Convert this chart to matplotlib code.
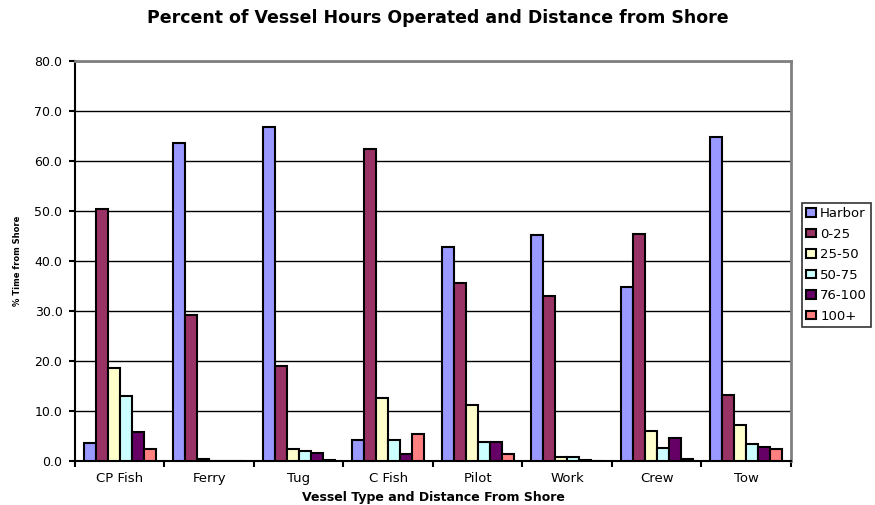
import numpy as np
import matplotlib
matplotlib.use('Agg')
import matplotlib.pyplot as plt

plt.rcParams['font.family'] = ['DejaVu Sans']

# data
vessels = ['CP Fish', 'Ferry', 'Tug', 'C Fish', 'Pilot', 'Work', 'Crew', 'Tow']
bands = ['Harbor', '0-25', '25-50', '50-75', '76-100', '100+']
harbor = [3.6, 63.6, 66.8, 4.3, 42.8, 45.3, 34.8, 64.8]
d0_25 = [50.5, 29.2, 19.1, 62.4, 35.7, 33.1, 45.5, 13.2]
d25_50 = [18.7, 0.5, 2.5, 12.7, 11.2, 0.8, 6.0, 7.2]
d50_75 = [13.1, 0.0, 2.1, 4.3, 3.9, 0.8, 2.7, 3.5]
d76_100 = [5.9, 0.0, 1.7, 1.5, 3.9, 0.3, 4.7, 2.8]
d100p = [2.5, 0.0, 0.3, 5.5, 1.5, 0.0, 0.4, 2.5]
series = [harbor, d0_25, d25_50, d50_75, d76_100, d100p]
colors = ['#9999FF', '#993366', '#FFFFCC', '#CCFFFF', '#660066', '#FF8080']

fig = plt.figure(figsize=(8.75, 5.05), dpi=100)
ax = fig.add_axes([0.0857, 0.087, 0.8183, 0.792])

x = np.arange(len(vessels))
w = 0.134
for i, (vals, c) in enumerate(zip(series, colors)):
    ax.bar(x + (i - 2.5) * w, vals, w, color=c, edgecolor='black', linewidth=1.5,
           label=bands[i], zorder=3)

ax.set_xlim(-0.5, len(vessels) - 0.5)
ax.set_ylim(0, 80)
ax.set_yticks(np.arange(0, 81, 10))
ax.set_yticklabels(['%.1f' % v for v in np.arange(0, 81, 10)], fontsize=9)
ax.yaxis.grid(True, color='black', linewidth=1, zorder=0)
ax.set_axisbelow(True)

ax.set_xticks(x)
ax.set_xticklabels(vessels, fontsize=9.5)
ax.tick_params(axis='x', length=0, pad=8)
ax.set_xticks(np.arange(-0.5, len(vessels)), minor=True)
ax.tick_params(axis='x', which='minor', length=4, width=1.5, direction='out')
ax.tick_params(axis='y', length=4, width=1.5, direction='out', pad=5)

for s in ['top', 'right']:
    ax.spines[s].set_color('#808080')
    ax.spines[s].set_linewidth(2)
for s in ['left', 'bottom']:
    ax.spines[s].set_color('black')
    ax.spines[s].set_linewidth(1.5)

ax.set_ylabel('% Time from Shore', fontsize=6, fontweight='bold', labelpad=9)
ax.set_xlabel('Vessel Type and Distance From Shore', fontsize=9, fontweight='bold', labelpad=4)
fig.suptitle('Percent of Vessel Hours Operated and Distance from Shore',
             fontsize=12.5, fontweight='bold', y=0.982)

leg = ax.legend(loc='upper left', bbox_to_anchor=(1.015, 0.645), fontsize=9.5,
                frameon=True, fancybox=False, edgecolor='black', handlelength=0.8,
                handleheight=0.6, handletextpad=0.3, labelspacing=0.57,
                borderpad=0.3, borderaxespad=0)
leg.get_frame().set_linewidth(1.2)

fig.savefig('out.png', dpi=100)
